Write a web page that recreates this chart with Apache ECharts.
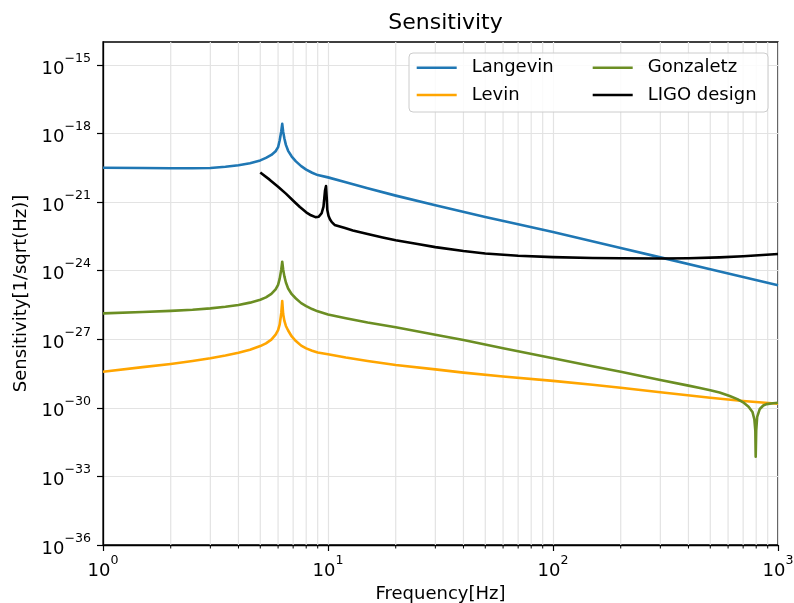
<!DOCTYPE html>
<html>
<head>
<meta charset="utf-8">
<script src="https://cdn.jsdelivr.net/npm/echarts@6/dist/echarts.min.js"></script>
<style>html,body{margin:0;padding:0;background:#fff;}#c{width:794px;height:603px;}</style>
</head>
<body>
<div id="c"></div>
<script>
// ---- data (frequency in Hz, sensitivity in 1/sqrt(Hz)) ----
const langevinFreq = [1, 1.5, 2, 2.5, 3, 3.5, 4, 4.5, 5, 5.3, 5.6, 5.85, 6, 6.1, 6.2, 6.26, 6.32, 6.4, 6.5, 6.65, 6.9, 7.2, 7.6, 8, 8.5, 9, 10, 12, 15, 20, 30, 50, 70, 100, 200, 300, 500, 1000];
const langevinVal  = [3.16e-20, 3.09e-20, 3.02e-20, 3.02e-20, 3.09e-20, 3.47e-20, 4.07e-20, 5.01e-20, 6.61e-20, 8.51e-20, 1.15e-19, 1.66e-19, 2.51e-19, 5.01e-19, 1.26e-18, 2.63e-18, 1.2e-18, 6.03e-19, 3.16e-19, 1.74e-19, 9.77e-20, 6.03e-20, 3.72e-20, 2.63e-20, 1.91e-20, 1.51e-20, 1.2e-20, 7.41e-21, 3.98e-21, 1.91e-21, 7.24e-22, 2.24e-22, 1.07e-22, 4.9e-23, 9.77e-24, 3.8e-24, 1.15e-24, 2.29e-25];

const levinFreq = [1, 1.5, 2, 2.5, 3, 3.5, 4, 4.5, 5, 5.3, 5.6, 5.85, 6, 6.1, 6.2, 6.26, 6.32, 6.4, 6.5, 6.65, 6.9, 7.2, 7.6, 8, 8.5, 9, 10, 12, 15, 20, 30, 40, 60, 100, 150, 200, 300, 500, 700, 1000];
const levinVal  = [3.8e-29, 6.03e-29, 8.32e-29, 1.12e-28, 1.48e-28, 1.95e-28, 2.57e-28, 3.47e-28, 5.01e-28, 6.61e-28, 9.55e-28, 1.58e-27, 2.51e-27, 4.47e-27, 1.41e-26, 4.68e-26, 1.26e-26, 6.31e-27, 3.8e-27, 2.4e-27, 1.32e-27, 8.32e-28, 5.25e-28, 3.98e-28, 3.16e-28, 2.63e-28, 2.19e-28, 1.58e-28, 1.12e-28, 7.41e-29, 4.79e-29, 3.47e-29, 2.34e-29, 1.51e-29, 1.02e-29, 7.59e-30, 4.79e-30, 2.75e-30, 2.0e-30, 1.51e-30];

const gonzaletzFreq = [1, 1.5, 2, 2.5, 3, 3.5, 4, 4.5, 5, 5.3, 5.6, 5.85, 6, 6.1, 6.2, 6.26, 6.32, 6.4, 6.5, 6.65, 6.9, 7.2, 7.6, 8, 8.5, 9, 10, 12, 15, 20, 30, 40, 60, 100, 150, 200, 300, 400, 450, 500, 550, 610, 660, 700, 740, 770, 785, 793, 796, 800, 808, 830, 860, 890, 950, 1000];
const gonzaletzVal  = [1.35e-26, 1.55e-26, 1.74e-26, 1.95e-26, 2.24e-26, 2.63e-26, 3.16e-26, 3.98e-26, 5.37e-26, 6.76e-26, 9.55e-26, 1.51e-25, 2.4e-25, 4.47e-25, 1.12e-24, 2.45e-24, 1.12e-24, 5.62e-25, 3.02e-25, 1.66e-25, 9.33e-26, 6.03e-26, 3.8e-26, 2.82e-26, 2.09e-26, 1.66e-26, 1.2e-26, 8.32e-27, 5.37e-27, 3.31e-27, 1.58e-27, 9.33e-28, 4.07e-28, 1.48e-28, 6.61e-29, 3.8e-29, 1.66e-29, 9.33e-30, 7.41e-30, 5.89e-30, 4.68e-30, 3.31e-30, 2.4e-30, 1.74e-30, 1.12e-30, 6.61e-31, 3.16e-31, 1.0e-31, 7.24e-33, 1.0e-31, 3.98e-31, 8.91e-31, 1.26e-30, 1.45e-30, 1.58e-30, 1.66e-30];

const ligoFreq = [5, 5.5, 6, 6.5, 7.1, 7.5, 8, 8.4, 8.8, 9.1, 9.37, 9.55, 9.7, 9.8, 9.88, 9.93, 10.05, 10.2, 10.4, 10.7, 11.9, 12.9, 15, 17.5, 20, 25, 30, 40, 50, 70, 100, 150, 200, 300, 400, 550, 700, 1000];
const ligoVal  = [1.95e-20, 9.55e-21, 4.68e-21, 2.34e-21, 1.0e-21, 6.03e-22, 3.55e-22, 2.63e-22, 2.19e-22, 2.29e-22, 3.24e-22, 6.31e-22, 3.16e-21, 5.01e-21, 1.26e-21, 4.47e-22, 2.51e-22, 1.78e-22, 1.32e-22, 1.0e-22, 7.24e-23, 5.75e-23, 3.98e-23, 2.82e-23, 2.14e-23, 1.45e-23, 1.07e-23, 7.24e-24, 5.62e-24, 4.47e-24, 3.89e-24, 3.55e-24, 3.47e-24, 3.39e-24, 3.47e-24, 3.8e-24, 4.27e-24, 5.37e-24];

const xMajorExp = [0, 1, 2, 3];
const xMinorTicks = [2,3,4,5,6,7,8,9,20,30,40,50,60,70,80,90,200,300,400,500,600,700,800,900];
const yTickExp = [-36, -33, -30, -27, -24, -21, -18, -15];
const yMinExp = -36, yMaxExp = -14;

// ---- chart ----
const FONT = 'DejaVu Sans';
const toPts = (f, v) => f.map((x, i) => [Math.log10(x), Math.log10(v[i])]);
const sup = n => (n < 0 ? '\u2212' + Math.abs(n) : String(n));
const richLbl = {
  b: {fontSize: 18, fontFamily: FONT, color: '#000', lineHeight: 26, verticalAlign: 'bottom'},
  s: {fontSize: 12.6, fontFamily: FONT, color: '#000', lineHeight: 14, verticalAlign: 'top'}
};
const chart = echarts.init(document.getElementById('c'), null, {renderer: 'canvas'});
const gridColor = '#e3e3e3';
function lineSeries(name, f, v, color) {
  return {name, type: 'line', data: toPts(f, v), showSymbol: false, symbol: 'none', smooth: false,
    lineStyle: {color, width: 2.6, join: 'round'}, itemStyle: {color}, z: 5, animation: false, clip: true};
}
chart.setOption({
  animation: false,
  backgroundColor: '#fff',
  title: {text: 'Sensitivity', left: 440.5, top: 7, textAlign: 'center',
    textStyle: {fontFamily: FONT, fontSize: 22, fontWeight: 'normal', color: '#000'}},
  grid: {left: 103, right: 16, top: 42, bottom: 58, show: true, borderColor: '#000', borderWidth: 1.3,
    containLabel: false, outerBoundsMode: 'none'},
  legend: {
    data: ['Langevin', 'Gonzaletz', 'Levin', 'LIGO design'],
    left: 409, top: 53, width: 350, orient: 'horizontal',
    padding: [5.7, 8.6, 8, 7.7], itemGap: 9.3, itemWidth: 40, itemHeight: 2.6, icon: 'rect',
    borderColor: '#cccccc', borderWidth: 1, borderRadius: 4, backgroundColor: 'rgba(255,255,255,0.85)',
    formatter: n => '{a|' + n + '}',
    textStyle: {fontFamily: FONT, fontSize: 18, color: '#000', lineHeight: 18,
      rich: {a: {fontFamily: FONT, fontSize: 18, color: '#000', width: 111.7, padding: [0, 0, 0, 10], lineHeight: 18}}}
  },
  xAxis: {
    type: 'value', min: 0, max: 3, interval: 1,
    name: 'Frequency[Hz]', nameLocation: 'middle', nameGap: 40,
    nameTextStyle: {fontFamily: FONT, fontSize: 18, color: '#000'},
    axisLine: {show: true, onZero: false, lineStyle: {color: '#000', width: 1.3}},
    axisTick: {show: true, length: 6, lineStyle: {color: '#000', width: 1.2}, customValues: xMajorExp},
    axisLabel: {margin: 9, formatter: v => '{b|10}{s|' + sup(v) + '}', rich: richLbl, customValues: xMajorExp},
    splitLine: {show: true, lineStyle: {color: gridColor, width: 1.2}}
  },
  yAxis: {
    type: 'value', min: yMinExp, max: yMaxExp, interval: 3,
    name: 'Sensitivity[1/sqrt(Hz)]', nameLocation: 'middle', nameGap: 72,
    nameTextStyle: {fontFamily: FONT, fontSize: 18, color: '#000'},
    axisLine: {show: true, onZero: false, lineStyle: {color: '#000', width: 1.3}},
    axisTick: {show: true, length: 6, lineStyle: {color: '#000', width: 1.2}, customValues: yTickExp},
    axisLabel: {margin: 12, formatter: v => (yTickExp.indexOf(v) >= 0 ? '{b|10}{s|' + sup(v) + '}' : ''), rich: richLbl, customValues: yTickExp},
    splitLine: {show: true, lineStyle: {color: gridColor, width: 1.2}}
  },
  series: [
    {
      type: 'custom', name: 'minor', silent: true, z: 1, clip: false,
      data: xMinorTicks.map(f => [Math.log10(f), yMinExp]),
      renderItem: (params, api) => {
        const x = api.value(0);
        const top = api.coord([x, yMaxExp]);
        const bot = api.coord([x, yMinExp]);
        return {type: 'group', children: [
          {type: 'line', shape: {x1: top[0], y1: top[1], x2: bot[0], y2: bot[1]}, style: {stroke: gridColor, lineWidth: 1.2}},
          {type: 'line', shape: {x1: bot[0], y1: bot[1], x2: bot[0], y2: bot[1] + 3.5}, style: {stroke: '#000', lineWidth: 1}}
        ]};
      }
    },
    lineSeries('Langevin', langevinFreq, langevinVal, '#1f77b4'),
    lineSeries('Levin', levinFreq, levinVal, '#ffa500'),
    lineSeries('Gonzaletz', gonzaletzFreq, gonzaletzVal, '#6b8e23'),
    lineSeries('LIGO design', ligoFreq, ligoVal, '#000000')
  ]
});
</script>
</body>
</html>
